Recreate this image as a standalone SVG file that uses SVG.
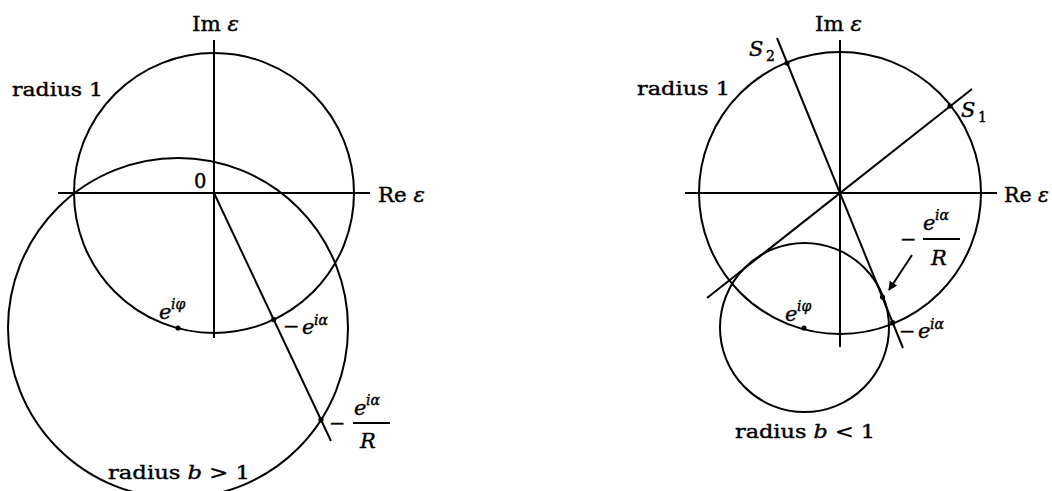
<svg xmlns="http://www.w3.org/2000/svg" width="1052" height="491" viewBox="0 0 1052 491">
<style>
.ln{stroke:#000;stroke-width:2;fill:none}
.thin{stroke:#000;stroke-width:2;fill:none}
.dot{fill:#000}
text{font-family:"DejaVu Serif","Liberation Serif",serif;fill:#000;stroke:#000;stroke-width:0.4}
.t{font-size:18.5px}
.ax{font-size:19.5px}
.m{font-size:21px;font-style:italic}
.s{font-size:14px;font-style:italic}
.sn{font-size:14px;font-style:normal}
</style>
<defs>
<marker id="ah" viewBox="0 0 10 10" refX="9" refY="5" markerWidth="10" markerHeight="9" markerUnits="userSpaceOnUse" orient="auto">
<path d="M0,0 L10,5 L0,10 z" fill="#000"/>
</marker>
</defs>

<g id="left">
<g id="left-axes">
<line class="ln" x1="58" y1="193" x2="370" y2="193"/>
<line class="ln" x1="214" y1="40" x2="214" y2="338"/>
</g>
<circle id="left-unit" class="ln" cx="214" cy="193" r="140"/>
<circle id="left-big" class="ln" cx="178" cy="328" r="170"/>
<g id="left-connectors">
<line class="ln" x1="214" y1="193" x2="331" y2="441"/>
</g>
<circle class="dot" cx="178" cy="328" r="2.6"/>
<circle class="dot" cx="273.7" cy="319.6" r="2.6"/>
<circle class="dot" cx="321" cy="419.8" r="2.6"/>

<text class="ax" x="192" y="31" textLength="47" lengthAdjust="spacingAndGlyphs">Im <tspan font-style="italic">ε</tspan></text>
<text class="t" x="12" y="96" textLength="91" lengthAdjust="spacingAndGlyphs">radius 1</text>
<text class="ax" x="194" y="188">0</text>
<text class="ax" x="378" y="202" textLength="47" lengthAdjust="spacingAndGlyphs">Re <tspan font-style="italic">ε</tspan></text>
<text class="m" x="159" y="319">e</text>
<text class="s" x="171" y="309">iφ</text>
<text class="ax" x="283" y="333">−</text>
<text class="m" x="302" y="334">e</text>
<text class="s" x="314" y="325">iα</text>
<text class="ax" x="329" y="430">−</text>
<line class="thin" x1="353" y1="423" x2="390" y2="423"/>
<text class="m" x="354" y="415">e</text>
<text class="s" x="366" y="405">iα</text>
<text class="m" x="360" y="448">R</text>
<text class="t" x="108" y="479" textLength="142" lengthAdjust="spacingAndGlyphs">radius <tspan font-style="italic">b</tspan> &gt; 1</text>
</g>

<g id="right">
<g id="right-axes">
<line class="ln" x1="685" y1="193" x2="997" y2="193"/>
<line class="ln" x1="840" y1="40" x2="840" y2="347"/>
</g>
<circle id="right-unit" class="ln" cx="840" cy="193" r="141"/>
<circle id="right-small" class="ln" cx="804.5" cy="327.5" r="84.5"/>
<g id="right-connectors">
<line class="ln" x1="972" y1="89" x2="707" y2="298"/>
<line class="ln" x1="777" y1="38" x2="903" y2="348"/>
<line class="ln" x1="912" y1="255" x2="889" y2="290" marker-end="url(#ah)"/>
</g>
<circle class="dot" cx="787" cy="63" r="2.6"/>
<circle class="dot" cx="950" cy="106" r="2.6"/>
<circle class="dot" cx="804" cy="328" r="2.6"/>
<circle class="dot" cx="892.7" cy="322.7" r="2.6"/>
<circle class="dot" cx="882.5" cy="297" r="2.6"/>

<text class="ax" x="815" y="31" textLength="47" lengthAdjust="spacingAndGlyphs">Im <tspan font-style="italic">ε</tspan></text>
<text class="m" x="749" y="56">S</text>
<text class="sn" x="766" y="61">2</text>
<text class="t" x="637" y="95" textLength="93" lengthAdjust="spacingAndGlyphs">radius 1</text>
<text class="m" x="961" y="117">S</text>
<text class="sn" x="978" y="122">1</text>
<text class="ax" x="1004" y="202" textLength="45" lengthAdjust="spacingAndGlyphs">Re <tspan font-style="italic">ε</tspan></text>
<text class="ax" x="900" y="246">−</text>
<line class="thin" x1="923" y1="239" x2="960" y2="239"/>
<text class="m" x="923" y="230">e</text>
<text class="s" x="935" y="220">iα</text>
<text class="m" x="931" y="265">R</text>
<text class="ax" x="899" y="338">−</text>
<text class="m" x="918" y="338">e</text>
<text class="s" x="930" y="329">iα</text>
<text class="m" x="785" y="321">e</text>
<text class="s" x="797" y="311">iφ</text>
<text class="t" x="735" y="438" textLength="140" lengthAdjust="spacingAndGlyphs">radius <tspan font-style="italic">b</tspan> &lt; 1</text>
</g>
</svg>
